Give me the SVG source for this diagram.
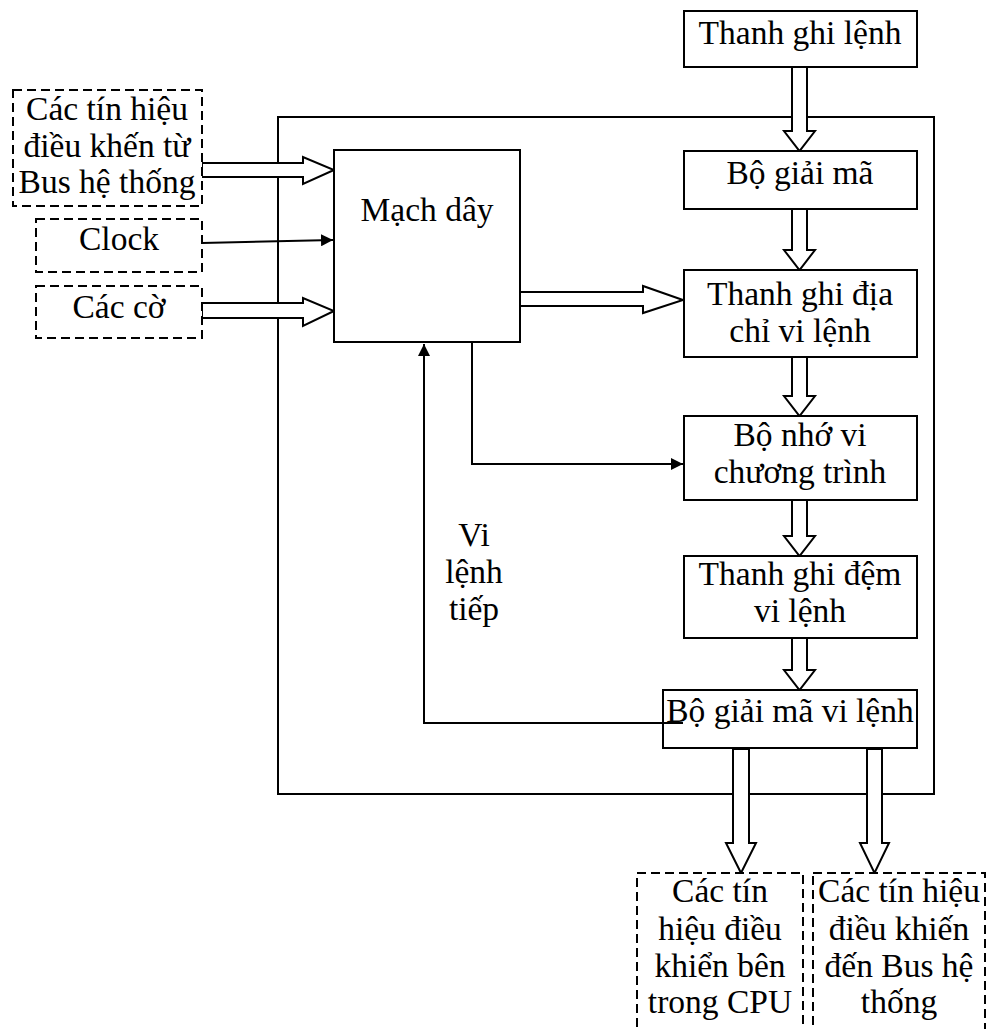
<svg xmlns="http://www.w3.org/2000/svg" width="988" height="1029" viewBox="0 0 988 1029">
<style>
.box{fill:#fff;stroke:#000;stroke-width:2}
.dash{fill:#fff;stroke:#000;stroke-width:2;stroke-dasharray:9 5}
.frame{fill:none;stroke:#000;stroke-width:2}
.hollow{fill:#fff;stroke:#000;stroke-width:2;stroke-linejoin:miter}
.line{fill:none;stroke:#000;stroke-width:2}
text{font-family:"Liberation Serif","Times New Roman",serif;font-size:33.5px;fill:#000;text-anchor:middle}
</style>
<defs>
<marker id="ah" viewBox="0 0 10 10" refX="10" refY="5" markerWidth="6" markerHeight="6" orient="auto" markerUnits="strokeWidth">
<path d="M0,0 L10,5 L0,10 Z" fill="#000"/>
</marker>
</defs>
<rect class="frame" x="278" y="117" width="656" height="677"/>
<g id="connectors">
<polygon class="hollow" points="792,67 807,67 807,131 815,131 799.5,151 784,131 792,131"/>
<polygon class="hollow" points="792,209 807,209 807,250 815,250 799.5,270 784,250 792,250"/>
<polygon class="hollow" points="792,357 807,357 807,396 815,396 799.5,416 784,396 792,396"/>
<polygon class="hollow" points="792,500 807,500 807,536 815,536 799.5,556 784,536 792,536"/>
<polygon class="hollow" points="792,638 807,638 807,670 815,670 799.5,690 784,670 792,670"/>
<polygon class="hollow" points="733,749 749,749 749,843 756,843 741,873 726,843 733,843"/>
<polygon class="hollow" points="867,749 882,749 882,843 889,843 874.5,873 860,843 867,843"/>
<polygon class="hollow" points="202,163 303,163 303,157 334,170 303,184 303,177 202,177"/>
<polygon class="hollow" points="202,303 303,303 303,298 334,311 303,326 303,318 202,318"/>
<polygon class="hollow" points="520,292 643,292 643,286 683,300 643,313 643,306 520,306"/>
<line class="line" x1="202" y1="243" x2="333" y2="240" marker-end="url(#ah)"/>
<path class="line" d="M472,343 V464 H683" marker-end="url(#ah)"/>
<path class="line" d="M683,723 H424 V344" marker-end="url(#ah)"/>
</g>
<g id="n-ext-bus-in">
<rect class="dash" x="13" y="90" width="189" height="116"/>
<text x="107" y="120">Các tín hiệu</text>
<text x="107" y="157">điều khến từ</text>
<text x="107" y="193">Bus hệ thống</text>
</g>
<g id="n-clock">
<rect class="dash" x="36" y="219" width="166" height="53"/>
<text x="119" y="250">Clock</text>
</g>
<g id="n-flags">
<rect class="dash" x="36" y="286" width="166" height="52"/>
<text x="119" y="318">Các cờ</text>
</g>
<g id="n-mach-day">
<rect class="box" x="334" y="150" width="186" height="192"/>
<text x="427" y="221">Mạch dây</text>
</g>
<g id="n-tgl">
<rect class="box" x="684" y="11" width="233" height="56"/>
<text x="800" y="44">Thanh ghi lệnh</text>
</g>
<g id="n-bgm">
<rect class="box" x="684" y="151" width="233" height="58"/>
<text x="800" y="184">Bộ giải mã</text>
</g>
<g id="n-tgdc">
<rect class="box" x="684" y="270" width="233" height="87"/>
<text x="800" y="305">Thanh ghi địa</text>
<text x="800" y="342">chỉ vi lệnh</text>
</g>
<g id="n-bnvct">
<rect class="box" x="684" y="416" width="233" height="84"/>
<text x="800" y="446">Bộ nhớ vi</text>
<text x="800" y="483">chương trình</text>
</g>
<g id="n-tgdvl">
<rect class="box" x="684" y="556" width="233" height="82"/>
<text x="800" y="585">Thanh ghi đệm</text>
<text x="800" y="622">vi lệnh</text>
</g>
<g id="n-bgmvl">
<rect class="box" x="663" y="690" width="254" height="58"/>
<text x="790" y="722">Bộ giải mã vi lệnh</text>
</g>
<line class="line" x1="663" y1="723" x2="683" y2="723"/>
<g id="n-label-vi">
<text x="474" y="546">Vi</text>
<text x="474" y="583">lệnh</text>
<text x="474" y="620">tiếp</text>
</g>
<g id="n-out-cpu">
<rect class="dash" x="637" y="873" width="166" height="170"/>
<text x="720" y="902">Các tín</text>
<text x="720" y="940">hiệu điều</text>
<text x="720" y="977">khiển bên</text>
<text x="720" y="1013">trong CPU</text>
</g>
<g id="n-out-bus">
<rect class="dash" x="813" y="873" width="172" height="170"/>
<text x="899" y="902">Các tín hiệu</text>
<text x="899" y="940">điều khiến</text>
<text x="899" y="977">đến Bus hệ</text>
<text x="899" y="1013">thống</text>
</g>
</svg>
